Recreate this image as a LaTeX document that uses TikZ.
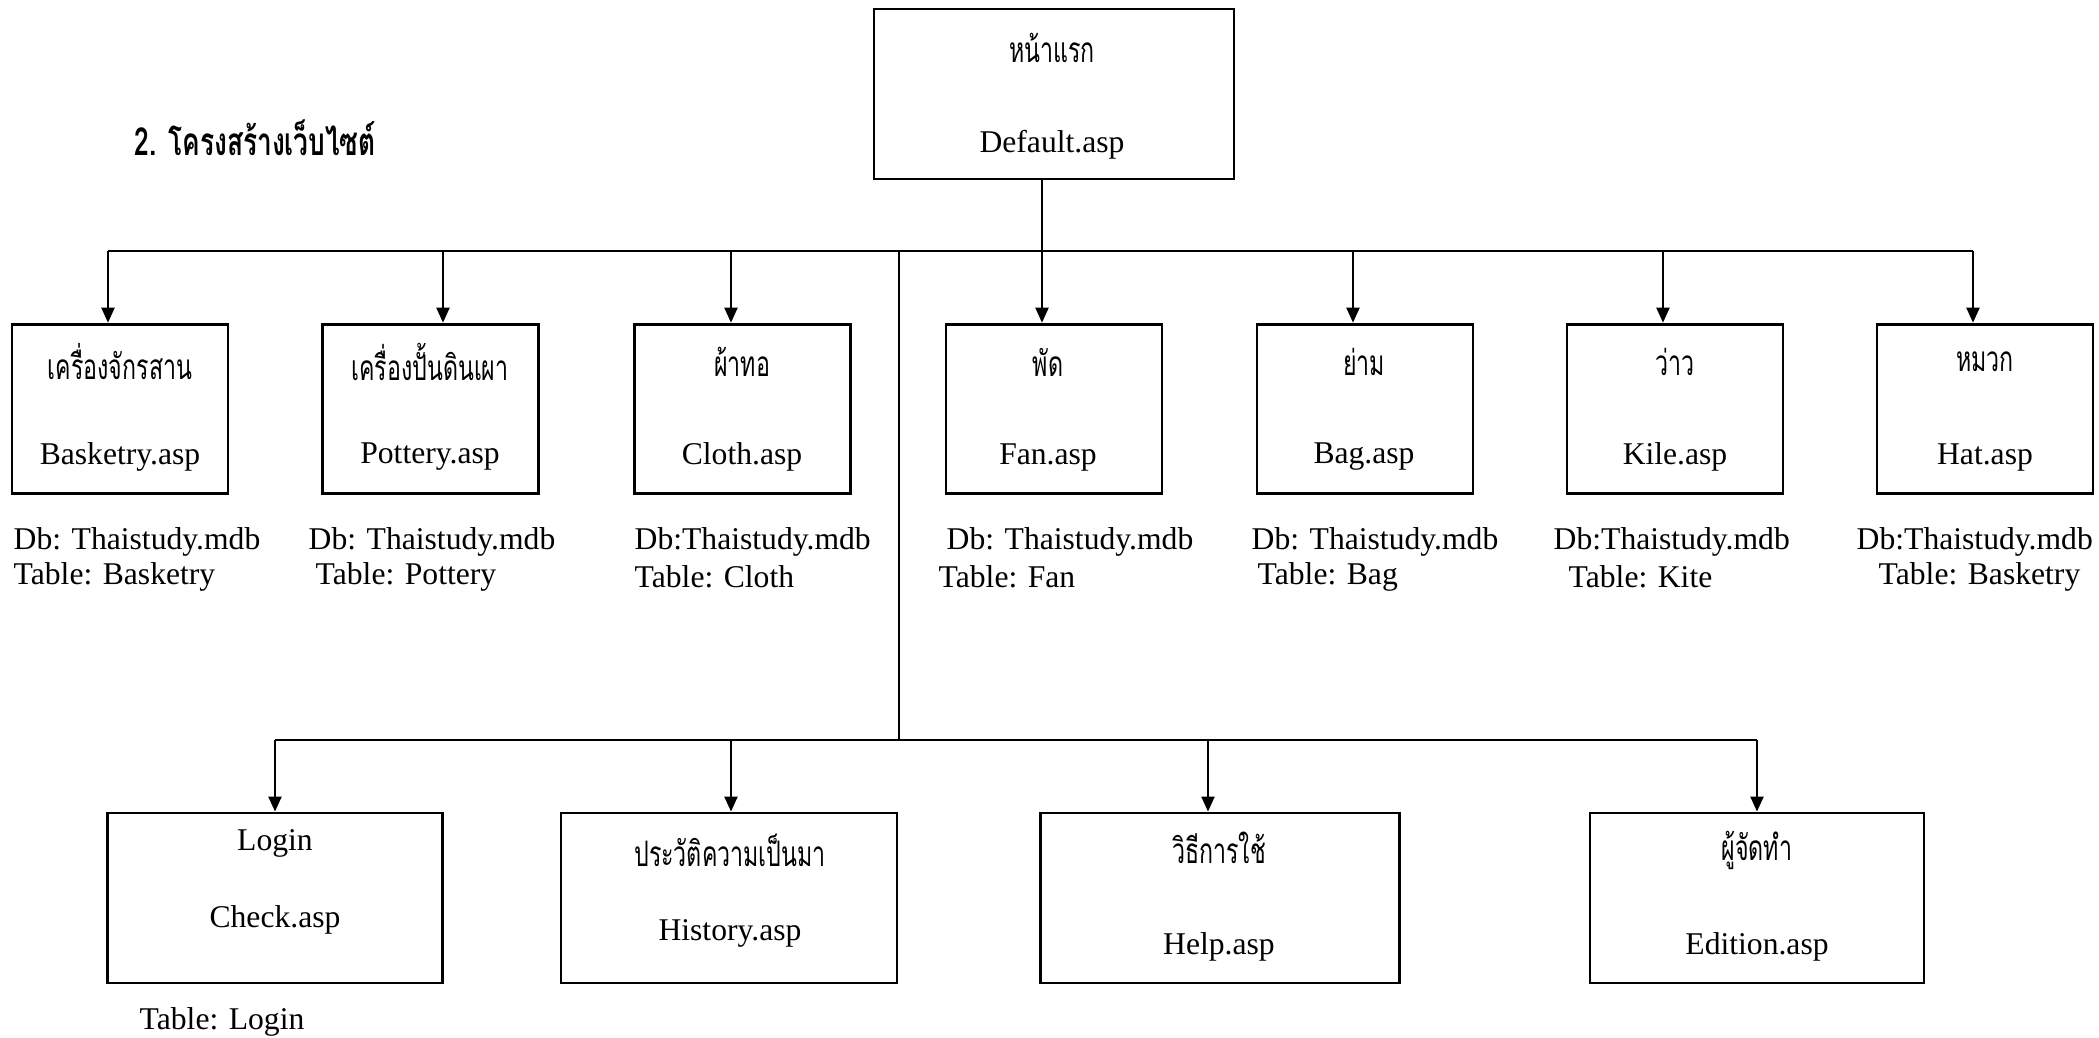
\documentclass[tikz,border=0pt]{standalone}
\usepackage{fontspec}
\setmainfont{Liberation Serif}
\newfontfamily\thaifont[Script=Thai,FakeStretch=0.66]{Loma}
\newfontfamily\thaititle[Script=Thai,FakeStretch=0.68]{Loma}
\usetikzlibrary{arrows.meta}

\begin{document}
\begin{tikzpicture}[scale=0.2,
  page/.style={draw=black, line width=0.8pt, minimum width=2.16cm, minimum height=1.69cm},
  arr/.style={-{Triangle[length=1.5mm,width=1.3mm]}, line width=0.6pt},
  lbl/.style={font=\fontsize{9}{11}\selectfont},
  thai/.style={font=\thaifont\fontsize{10}{12}\selectfont},
  dbtxt/.style={anchor=west, font=\fontsize{9}{11}\selectfont}]
\tikzstyle{every node}+=[inner sep=0pt]
\useasboundingbox (0,0) rectangle (104.95,-51.85);
\node [anchor=west, font=\thaititle\bfseries\fontsize{11}{13}\selectfont] (title) at (6.7,-6.9) {2. โครงสร้างเว็บไซต์};
% home page
\node [page, minimum width=3.6cm, minimum height=1.7cm] (home) at (52.7,-4.7) {};
\node [thai] (homeTh) at (52.6,-2.4) {หน้าแรก};
\node [lbl] (homeAsp) at (52.6,-7.25) {Default.asp};
% second level
\node [page] (basketry) at (6.0,-20.43) {};
\node [thai] (basketryTh) at (6.0,-18.1) {เครื่องจักรสาน};
\node [lbl] (basketryAsp) at (6.0,-22.85) {Basketry.asp};
\node [dbtxt] (basketryDb) at (0.65,-27.1) {Db: Thaistudy.mdb};
\node [dbtxt] (basketryTb) at (0.65,-28.85) {Table: Basketry};
\node [page] (pottery) at (21.53,-20.43) {};
\node [thai] (potteryTh) at (21.5,-18.1) {เครื่องปั้นดินเผา};
\node [lbl] (potteryAsp) at (21.5,-22.85) {Pottery.asp};
\node [dbtxt] (potteryDb) at (15.4,-27.1) {Db: Thaistudy.mdb};
\node [dbtxt] (potteryTb) at (15.75,-28.85) {Table: Pottery};
\node [page] (cloth) at (37.13,-20.43) {};
\node [thai] (clothTh) at (37.1,-18.1) {ผ้าทอ};
\node [lbl] (clothAsp) at (37.1,-22.85) {Cloth.asp};
\node [dbtxt] (clothDb) at (31.7,-27.1) {Db:Thaistudy.mdb};
\node [dbtxt] (clothTb) at (31.7,-28.85) {Table: Cloth};
\node [page] (fan) at (52.7,-20.43) {};
\node [thai] (fanTh) at (52.4,-18.1) {พัด};
\node [lbl] (fanAsp) at (52.4,-22.85) {Fan.asp};
\node [dbtxt] (fanDb) at (47.3,-27.1) {Db: Thaistudy.mdb};
\node [dbtxt] (fanTb) at (46.9,-28.85) {Table: Fan};
\node [page] (bag) at (68.25,-20.43) {};
\node [thai] (bagTh) at (68.2,-18.1) {ย่าม};
\node [lbl] (bagAsp) at (68.2,-22.85) {Bag.asp};
\node [dbtxt] (bagDb) at (62.55,-27.1) {Db: Thaistudy.mdb};
\node [dbtxt] (bagTb) at (62.85,-28.85) {Table: Bag};
\node [page] (kite) at (83.75,-20.43) {};
\node [thai] (kiteTh) at (83.75,-18.1) {ว่าว};
\node [lbl] (kiteAsp) at (83.75,-22.85) {Kile.asp};
\node [dbtxt] (kiteDb) at (77.65,-27.1) {Db:Thaistudy.mdb};
\node [dbtxt] (kiteTb) at (78.4,-28.85) {Table: Kite};
\node [page] (hat) at (99.25,-20.43) {};
\node [thai] (hatTh) at (99.25,-18.1) {หมวก};
\node [lbl] (hatAsp) at (99.25,-22.85) {Hat.asp};
\node [dbtxt] (hatDb) at (92.8,-27.1) {Db:Thaistudy.mdb};
\node [dbtxt] (hatTb) at (93.9,-28.85) {Table: Basketry};
% third level
\node [page, minimum width=3.35cm, minimum height=1.7cm] (login) at (13.73,-44.9) {};
\node [lbl] (loginTh) at (13.75,-42.15) {Login};
\node [lbl] (loginAsp) at (13.75,-46.0) {Check.asp};
\node [dbtxt] (loginTb) at (6.95,-51.1) {Table: Login};
\node [page, minimum width=3.36cm, minimum height=1.7cm] (history) at (36.45,-44.9) {};
\node [thai] (historyTh) at (36.5,-42.5) {ประวัติความเป็นมา};
\node [lbl] (historyAsp) at (36.5,-46.65) {History.asp};
\node [page, minimum width=3.59cm, minimum height=1.7cm] (help) at (60.98,-44.9) {};
\node [thai] (helpTh) at (60.95,-42.4) {วิธีการใช้};
\node [lbl] (helpAsp) at (60.95,-47.35) {Help.asp};
\node [page, minimum width=3.34cm, minimum height=1.7cm] (edition) at (87.85,-44.9) {};
\node [thai] (editionTh) at (87.85,-42.5) {ผู้จัดทำ};
\node [lbl] (editionAsp) at (87.85,-47.35) {Edition.asp};
% upper bus
\coordinate (j1) at (5.4,-12.55);
\coordinate (j2) at (22.15,-12.55);
\coordinate (j3) at (36.55,-12.55);
\coordinate (j4) at (52.1,-12.55);
\coordinate (j5) at (67.65,-12.55);
\coordinate (j6) at (83.15,-12.55);
\coordinate (j7) at (98.65,-12.55);
\coordinate (trunk) at (44.95,-12.55);
\draw [line width=0.6pt] (j4 |- home.south) -- (j4);
\draw [line width=0.6pt] (j1) -- (j7);
\draw [arr] (j1) -- (j1 |- basketry.north);
\draw [arr] (j2) -- (j2 |- pottery.north);
\draw [arr] (j3) -- (j3 |- cloth.north);
\draw [arr] (j4) -- (j4 |- fan.north);
\draw [arr] (j5) -- (j5 |- bag.north);
\draw [arr] (j6) -- (j6 |- kite.north);
\draw [arr] (j7) -- (j7 |- hat.north);
% lower bus
\coordinate (k1) at (13.75,-37.0);
\coordinate (k2) at (36.55,-37.0);
\coordinate (k3) at (60.4,-37.0);
\coordinate (k4) at (87.85,-37.0);
\draw [line width=0.6pt] (trunk) -- (trunk |- k1);
\draw [line width=0.6pt] (k1) -- (k4);
\draw [arr] (k1) -- (k1 |- login.north);
\draw [arr] (k2) -- (k2 |- history.north);
\draw [arr] (k3) -- (k3 |- help.north);
\draw [arr] (k4) -- (k4 |- edition.north);
\end{tikzpicture}
\end{document}
